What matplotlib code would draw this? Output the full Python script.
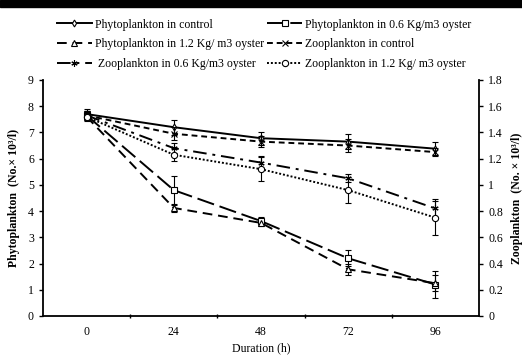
import matplotlib
matplotlib.use("Agg")
import matplotlib.pyplot as plt
import matplotlib.patches as patches
from matplotlib.lines import Line2D

plt.rcParams['font.family'] = ['Liberation Serif', 'DejaVu Serif']
plt.rcParams['font.size'] = 8.5

durations = ["0", "24", "48", "72", "96"]

# phytoplankton, left axis (No. x 10^3/l)
phyto_control = [7.70, 7.20, 6.78, 6.65, 6.38]
phyto_control_err = [0.20, 0.28, 0.25, 0.30, 0.25]
phyto_06 = [7.65, 4.80, 3.62, 2.20, 1.20]
phyto_06_err = [0.15, 0.55, 0.15, 0.30, 0.50]
phyto_12 = [7.60, 4.12, 3.55, 1.78, 1.25]
phyto_12_err = [0.10, 0.15, 0.10, 0.20, 0.30]

# zooplankton, right axis (No. x 10^3/l)
zoo_control = [1.53, 1.39, 1.33, 1.30, 1.25]
zoo_control_err = [0.03, 0.05, 0.04, 0.05, 0.03]
zoo_06 = [1.53, 1.28, 1.17, 1.05, 0.82]
zoo_06_err = [0.03, 0.04, 0.05, 0.03, 0.07]
zoo_12 = [1.52, 1.23, 1.12, 0.96, 0.75]
zoo_12_err = [0.03, 0.05, 0.09, 0.10, 0.13]

x = list(range(len(durations)))

fig = plt.figure(figsize=(5.22, 3.56), dpi=100)
ax = fig.add_axes([43 / 522, 1 - 316 / 356, 436 / 522, 236 / 356])
ax2 = ax.twinx()

styles = [
    ('Phytoplankton in control', 'd', '-'),
    ('Phytoplankton in 0.6 Kg/m3 oyster', 's', (0, (9, 3))),
    ('Phytoplankton in 1.2 Kg/ m3 oyster', '^', (0, (5, 3))),
    ('Zooplankton in control', 'x', (0, (3, 2))),
    (' Zooplankton in 0.6 Kg/m3 oyster', (6, 2, 0), (0, (7, 3, 1.5, 3))),
    ('Zooplankton in 1.2 Kg/ m3 oyster', 'o', (0, (1, 1))),
]
series = [
    (ax, phyto_control, phyto_control_err),
    (ax, phyto_06, phyto_06_err),
    (ax, phyto_12, phyto_12_err),
    (ax2, zoo_control, zoo_control_err),
    (ax2, zoo_06, zoo_06_err),
    (ax2, zoo_12, zoo_12_err),
]

proxies = []
for (label, mk, ls), (a, vals, err) in zip(styles, series):
    ms = 3.5 if mk == 'd' else 4.5
    a.errorbar(x, vals, yerr=err, color='black', lw=1.4, marker=mk, ms=ms,
               mfc='white', mec='black', mew=0.8, ls=ls,
               capsize=2.5, elinewidth=0.8, capthick=0.8, ecolor='black')
    proxies.append(Line2D([], [], color='black', lw=1.4, marker=mk, ms=ms,
                          mfc='white', mec='black', mew=0.8, ls=ls, label=label))

ax.set_xlim(-0.5, len(durations) - 0.5)
ax.set_ylim(0, 9)
ax2.set_ylim(0, 1.8)
ax.set_yticks(range(0, 10))
ax2.set_yticks([0, 0.2, 0.4, 0.6, 0.8, 1, 1.2, 1.4, 1.6, 1.8])
ax2.set_yticklabels(['0', '0.2', '0.4', '0.6', '0.8', '1', '1.2', '1.4', '1.6', '1.8'])

ax.set_xticks(x)
ax.set_xticklabels(durations)
ax.set_xticks([i + 0.5 for i in x[:-1]], minor=True)
ax.tick_params(axis='x', which='major', length=0, pad=7)
ax.tick_params(axis='x', which='minor', length=3, direction='inout', width=1)
ax.tick_params(axis='y', length=3, width=1)
ax2.tick_params(axis='y', length=3, width=1)

for a in (ax, ax2):
    a.spines['top'].set_visible(False)
    for s in ('left', 'right', 'bottom'):
        a.spines[s].set_linewidth(1.3)
ax.spines['right'].set_visible(False)
ax2.spines['left'].set_visible(False)
ax2.spines['bottom'].set_visible(False)

ax.set_xlabel('Duration (h)', labelpad=3)
ax.set_ylabel('Phytoplankton  (No.\u00d7 10\u00b3/l)', fontweight='bold', labelpad=6)
ax2.set_ylabel('Zooplankton  (No. \u00d7 10\u00b3/l)', fontweight='bold', labelpad=6)

# row-major order as in the source legend
order = [0, 2, 4, 1, 3, 5]
fig.legend(handles=[proxies[i] for i in order], ncol=2,
           loc='upper left', bbox_to_anchor=(46 / 522, 1 - 8 / 356), frameon=False,
           handlelength=3.0, handletextpad=0.25, columnspacing=0.25, labelspacing=0.65,
           fontsize=8.5)

# dark band along the top edge as in the source image
fig.patches.append(patches.Rectangle((0, 1 - 7 / 356), 1, 7 / 356,
                                     transform=fig.transFigure, color='black', zorder=10))

fig.savefig('out.png', dpi=100)
